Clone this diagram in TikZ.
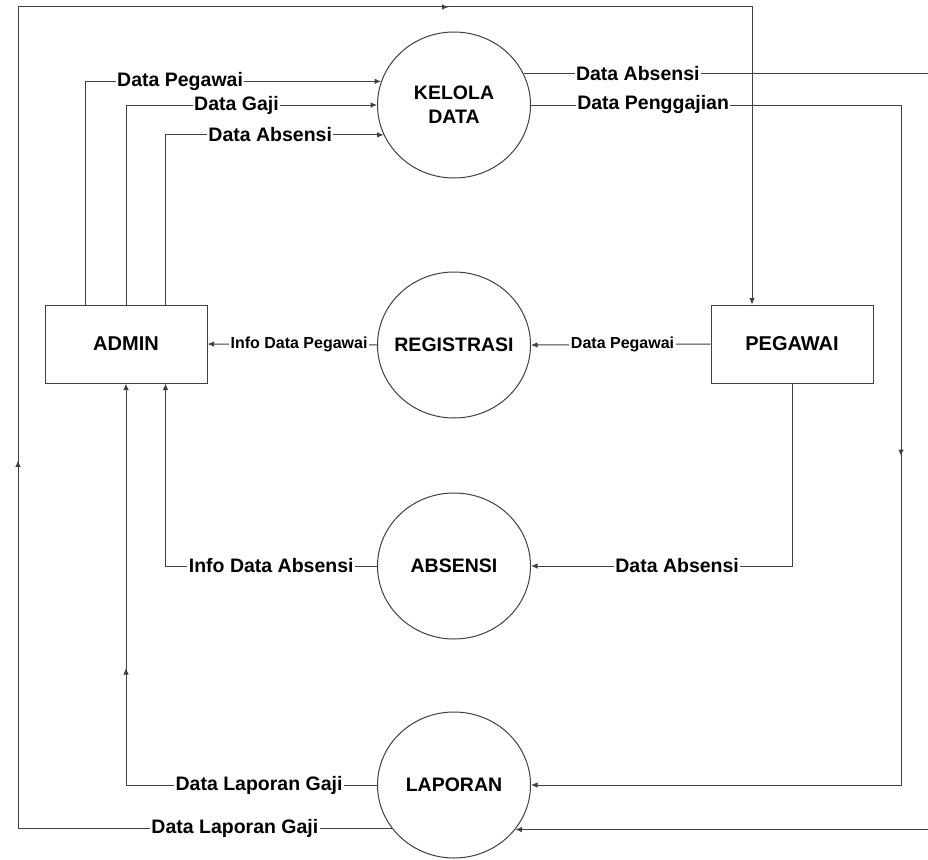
\documentclass[tikz,border=0pt]{standalone}
\usepackage{fontspec}
\setmainfont{Liberation Sans}
\usetikzlibrary{arrows.meta,calc,shapes.geometric,decorations.markings}

\begin{document}
\begin{tikzpicture}[x=1pt,y=-1pt,
  line/.style={draw=black!75, line width=1pt},
  arr/.style={line, -{Latex[length=6.5pt,width=5.5pt]}},
  proc/.style={ellipse, draw=black!75, line width=1pt, minimum width=153pt, minimum height=146pt, inner sep=0pt,
    label={[font=\fontsize{19.5}{24}\selectfont\bfseries, align=center]center:#1}},
  ent/.style={rectangle, draw=black!75, line width=1pt, minimum width=162pt, minimum height=78pt, font=\fontsize{20}{24}\selectfont\bfseries},
  lbl/.style={fill=white, inner sep=1.5pt, font=\fontsize{19.5}{22}\selectfont\bfseries},
  slbl/.style={fill=white, inner sep=1.5pt, font=\fontsize{16}{18}\selectfont\bfseries},
  midarr/.style={postaction={decorate}, decoration={markings, mark=at position #1 with {\arrow{Latex[length=6.5pt,width=5.5pt]}}}}
]
\useasboundingbox (0,0) rectangle (928,859);
\fill[white] (0,0) rectangle (928,859);

% processes
\node[proc={KELOLA\\DATA}] (kelola) at (454,105) {};
\node[proc={REGISTRASI}] (reg) at (454,345) {};
\node[proc={ABSENSI}] (abs) at (454,566) {};
\node[proc={LAPORAN}] (lap) at (454,785) {};
% entities
\node[ent] (admin) at (126,344) {ADMIN};
\node[ent] (pegawai) at (792,344) {PEGAWAI};

% helper coordinates
\coordinate (tl) at (18,7);
\coordinate (tr) at (752,7);
\coordinate (rx) at (931,0);
\coordinate (rp) at (901,0);

% ADMIN -> KELOLA DATA
\draw[arr] ($(admin.north west)+(41,0)$) |- (kelola.162.4) node[lbl, pos=0.66] {Data Pegawai};
\draw[arr] (admin.north) |- (kelola.west) node[lbl, pos=0.72] {Data Gaji};
\draw[arr] ($(admin.north west)+(121,0)$) |- (kelola.203.3) node[lbl, pos=0.74] {Data Absensi};

% KELOLA DATA -> LAPORAN (right side)
\draw[arr] (kelola.24.9) -- node[lbl, pos=0.28] {Data Absensi} (kelola.24.9 -| rx) |- (lap.324.2);
\draw[arr, midarr=721pt] (kelola.east) -- node[lbl, pos=0.33] {Data Penggajian} (kelola.east -| rp) |- (lap.east);

% REGISTRASI row
\draw[arr] (reg.west) -- node[slbl, pos=0.46] {Info Data Pegawai} (admin.east);
\draw[arr] (pegawai.west) -- node[slbl, pos=0.49] {Data Pegawai} (reg.east);

% ABSENSI row
\draw[arr] (pegawai.south) |- (abs.east) node[lbl, pos=0.72] {Data Absensi};
\draw[arr] (abs.west) -| ($(admin.south west)+(121,0)$) node[lbl, pos=0.25] {Info Data Absensi};

% LAPORAN -> ADMIN
\draw[arr, midarr=368pt] (lap.west) -| (admin.south) node[lbl, pos=0.235] {Data Laporan Gaji};

% LAPORAN -> PEGAWAI (outer loop)
\draw[arr, postaction={decorate}, decoration={markings,
    mark=at position 742pt with {\arrow{Latex[length=6.5pt,width=5.5pt]}},
    mark=at position 1626pt with {\arrow{Latex[length=6.5pt,width=5.5pt]}}}]
  (lap.215.8) -- node[lbl, pos=0.42] {Data Laporan Gaji} (lap.215.8 -| tl) -- (tl) -- (tr) -- (tr |- pegawai.north);
\end{tikzpicture}
\end{document}
